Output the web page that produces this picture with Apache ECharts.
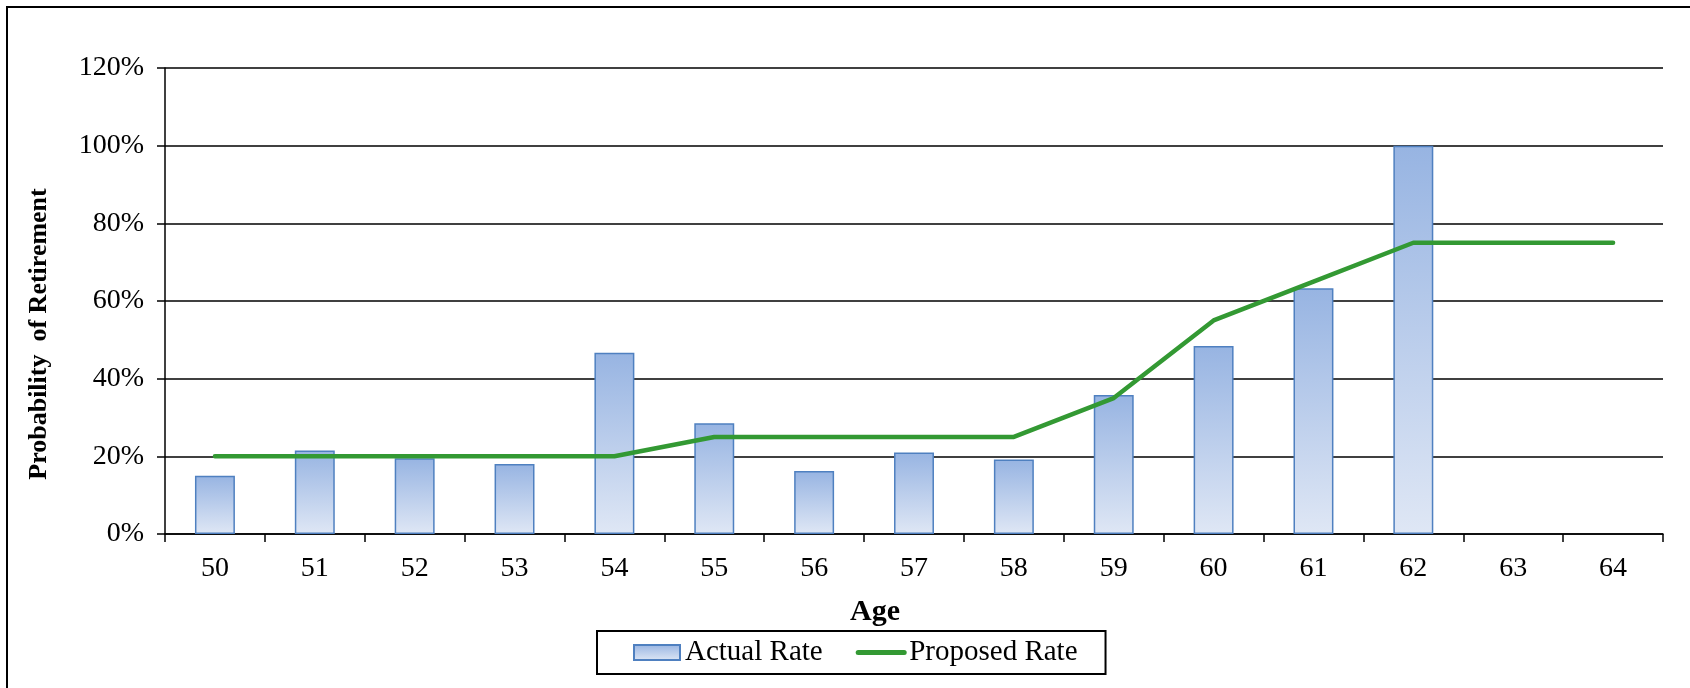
<!DOCTYPE html>
<html>
<head>
<meta charset="utf-8">
<script src="https://cdn.jsdelivr.net/npm/echarts@6/dist/echarts.min.js"></script>
<style>
  html, body { margin: 0; padding: 0; background: #fff; }
  #chart { width: 1690px; height: 688px; }
</style>
</head>
<body>
<div id="chart"></div>
<script>
const ages = ['50','51','52','53','54','55','56','57','58','59','60','61','62','63','64'];
const actualRate = [15, 21.5, 19.5, 18, 46.7, 28.5, 16.2, 21, 19.2, 35.8, 48.4, 63.3, 100, null, null];
const proposedRate = [20, 20, 20, 20, 20, 25, 25, 25, 25, 35, 55, 65, 75, 75, 75];
const yTicks = [0, 20, 40, 60, 80, 100, 120];

const FONT = '"Liberation Serif", "Times New Roman", serif';
const chart = echarts.init(document.getElementById('chart'), null, { renderer: 'canvas' });

chart.setOption({
  backgroundColor: '#fff',
  animation: false,
  grid: { left: 165, right: 27, top: 68, bottom: 154, containLabel: false },
  graphic: [
    {
      type: 'rect', z: 100, silent: true,
      shape: { x: 7, y: 7, width: 1720, height: 720 },
      style: { fill: 'none', stroke: '#000', lineWidth: 2 }
    },
    {
      type: 'text', z: 100, silent: true,
      x: 39, y: 334, rotation: Math.PI / 2,
      style: {
        text: 'Probability  of Retirement',
        font: 'bold 26px ' + FONT,
        fill: '#000', align: 'center', verticalAlign: 'middle'
      }
    },
    {
      type: 'text', z: 100, silent: true,
      x: 875, y: 612,
      style: {
        text: 'Age',
        font: 'bold 30px ' + FONT,
        fill: '#000', align: 'center', verticalAlign: 'middle'
      }
    }
  ],
  legend: {
    left: 597, top: 631,
    padding: [7, 28, 7, 36],
    borderColor: '#000', borderWidth: 2,
    itemWidth: 46, itemHeight: 15, itemGap: 33,
    textStyle: { fontFamily: FONT, fontSize: 29, color: '#000' },
    data: [
      { name: 'Actual Rate', icon: 'rect' },
      { name: 'Proposed Rate', itemStyle: { opacity: 0 }, lineStyle: { width: 5, color: '#339933' } }
    ]
  },
  xAxis: {
    type: 'category',
    data: ages,
    boundaryGap: true,
    axisLine: { show: true, lineStyle: { color: '#000', width: 1.5 } },
    axisTick: { show: true, inside: false, length: 8, lineStyle: { color: '#000', width: 1.5 } },
    axisLabel: { fontFamily: FONT, fontSize: 28, color: '#000', margin: 21 },
    splitLine: { show: false }
  },
  yAxis: {
    type: 'value',
    min: 0, max: 120, interval: 20,
    axisLine: { show: true, lineStyle: { color: '#000', width: 1.5 } },
    axisTick: { show: true, inside: false, length: 8, lineStyle: { color: '#000', width: 1.5 } },
    axisLabel: {
      fontFamily: FONT, fontSize: 28, color: '#000', margin: 21,
      formatter: function (v) { return yTicks.indexOf(v) >= 0 ? v + '%' : ''; }
    },
    splitLine: { show: true, lineStyle: { color: '#000', width: 1.5 } }
  },
  series: [
    {
      name: 'Actual Rate',
      type: 'bar',
      data: actualRate,
      barWidth: '40%',
      itemStyle: {
        color: new echarts.graphic.LinearGradient(0, 0, 0, 1, [
          { offset: 0, color: '#97b4e2' },
          { offset: 1, color: '#dfe7f5' }
        ]),
        borderColor: '#4f80c0',
        borderWidth: 1.5
      },
      z: 2
    },
    {
      name: 'Proposed Rate',
      type: 'line',
      data: proposedRate,
      symbol: 'none',
      lineStyle: { color: '#339933', width: 4.5, cap: 'round' },
      itemStyle: { color: '#339933' },
      z: 3
    }
  ]
});
</script>
</body>
</html>
